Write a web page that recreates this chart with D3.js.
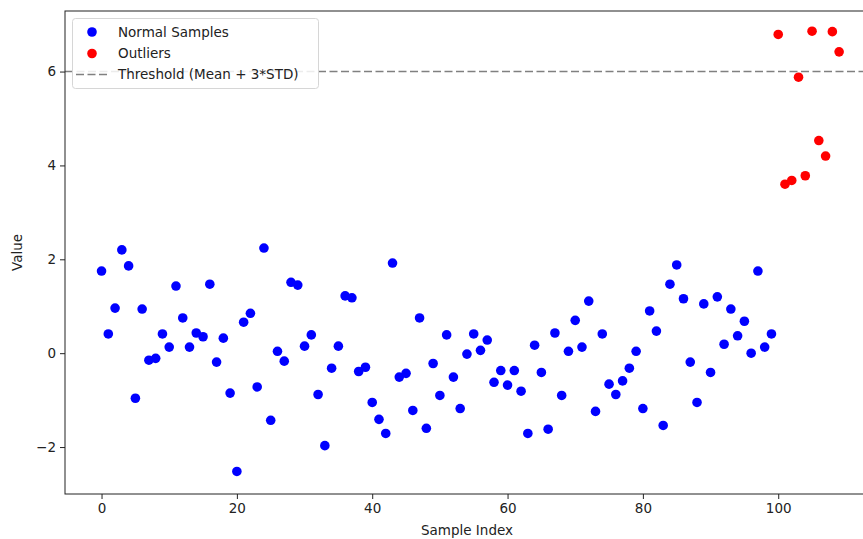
<!DOCTYPE html>
<html>
<head>
<meta charset="utf-8">
<script src="https://cdn.jsdelivr.net/npm/d3@7"></script>
<style>
  html, body { margin: 0; padding: 0; background: #fff; overflow: hidden; }
  svg { display: block; font-family: "DejaVu Sans", sans-serif; }
</style>
</head>
<body>
<svg id="chart" width="863" height="539"></svg>
<script>
// data
var normalValues = [
  1.75, 0.41, 0.96, 2.20, 1.86, -0.96, 0.94, -0.15, -0.11, 0.41,
  0.13, 1.43, 0.75, 0.13, 0.43, 0.35, 1.47, -0.19, 0.32, -0.85,
  -2.52, 0.66, 0.85, -0.72, 2.24, -1.43, 0.04, -0.17, 1.51, 1.45,
  0.15, 0.39, -0.88, -1.97, -0.32, 0.15, 1.22, 1.18, -0.39, -0.30,
  -1.05, -1.41, -1.71, 1.92, -0.51, -0.43, -1.22, 0.75, -1.60, -0.22,
  -0.90, 0.39, -0.51, -1.18, -0.02, 0.41, 0.06, 0.28, -0.62, -0.37,
  -0.68, -0.37, -0.81, -1.71, 0.17, -0.41, -1.62, 0.43, -0.90, 0.04,
  0.70, 0.13, 1.11, -1.24, 0.41, -0.66, -0.88, -0.59, -0.32, 0.04,
  -1.18, 0.90, 0.47, -1.54, 1.47, 1.88, 1.16, -0.19, -1.05, 1.05,
  -0.41, 1.20, 0.19, 0.94, 0.37, 0.68, 0.00, 1.75, 0.13, 0.41
]
var outlierIndex = [100, 101, 102, 103, 104, 105, 106, 107, 108, 109]
var outlierValues = [6.79, 3.60, 3.68, 5.88, 3.78, 6.86, 4.53, 4.20, 6.85, 6.42]
var threshold = 6.0
var xTicks = [0, 20, 40, 60, 80, 100]
var yTicks = [-2, 0, 2, 4, 6]
var legendLabels = ['Normal Samples', 'Outliers', 'Threshold (Mean + 3*STD)']

//
// Layout
//
var plotLeft = 65, plotRight = 876, plotTop = 11, plotBottom = 494
var colorNormal = '#0000ff'
var colorOutlier = '#ff0000'
var colorThreshold = '#808080'
var dotRadius = 4.8

var svg = d3.select('#chart')

var x = d3.scaleLinear().domain([-5.4, 114.45]).range([plotLeft, plotRight])
var y = d3.scaleLinear().domain([-3.0, 7.29]).range([plotBottom, plotTop])

// title is almost entirely cropped off above the figure
svg.append('text')
  .attr('x', 170)
  .attr('y', -3)
  .attr('font-size', 16)
  .attr('fill', '#000')
  .text('Anomaly Detection')

// points
var normalData = normalValues.map(function (v, i) { return [i, v] })
var outlierData = outlierValues.map(function (v, i) { return [outlierIndex[i], v] })

svg.append('g').selectAll('circle')
  .data(normalData)
  .join('circle')
  .attr('cx', function (d) { return x(d[0]) })
  .attr('cy', function (d) { return y(d[1]) })
  .attr('r', dotRadius)
  .attr('fill', colorNormal)

svg.append('g').selectAll('circle')
  .data(outlierData)
  .join('circle')
  .attr('cx', function (d) { return x(d[0]) })
  .attr('cy', function (d) { return y(d[1]) })
  .attr('r', dotRadius)
  .attr('fill', colorOutlier)

// threshold line
svg.append('line')
  .attr('x1', plotLeft).attr('x2', plotRight)
  .attr('y1', y(threshold)).attr('y2', y(threshold))
  .attr('stroke', colorThreshold)
  .attr('stroke-width', 1.6)
  .attr('stroke-dasharray', '8,3.5')

// axes
var xAxis = svg.append('g')
  .attr('transform', 'translate(0,' + plotBottom + ')')
  .call(d3.axisBottom(x).tickValues(xTicks).tickSize(5).tickPadding(4).tickFormat(d3.format('d')))
var yAxis = svg.append('g')
  .attr('transform', 'translate(' + plotLeft + ',0)')
  .call(d3.axisLeft(y).tickValues(yTicks).tickSize(5).tickPadding(4)
    .tickFormat(function (d) { return d < 0 ? '\u2212' + Math.abs(d) : d }))

;[xAxis, yAxis].forEach(function (a) {
  a.select('.domain').remove()
  a.selectAll('text').attr('font-size', 13.5).attr('fill', '#222').attr('font-family', '"DejaVu Sans", sans-serif')
  a.selectAll('line').attr('stroke', '#222')
})

// frame
svg.append('rect')
  .attr('x', plotLeft).attr('y', plotTop)
  .attr('width', plotRight - plotLeft).attr('height', plotBottom - plotTop)
  .attr('fill', 'none')
  .attr('stroke', '#222')
  .attr('stroke-width', 1)

// axis labels
svg.append('text')
  .attr('x', 467)
  .attr('y', 535)
  .attr('text-anchor', 'middle')
  .attr('font-size', 13.5)
  .attr('fill', '#222')
  .text('Sample Index')

svg.append('text')
  .attr('transform', 'translate(22,' + (plotTop + plotBottom) / 2 + ') rotate(-90)')
  .attr('text-anchor', 'middle')
  .attr('font-size', 13.5)
  .attr('fill', '#222')
  .text('Value')

// legend
var legend = svg.append('g')
legend.append('rect')
  .attr('x', 72.5).attr('y', 18.5)
  .attr('width', 246).attr('height', 70)
  .attr('rx', 3)
  .attr('fill', '#fff')
  .attr('fill-opacity', 0.85)
  .attr('stroke', '#d6d6d6')

var rowY = [32, 53.5, 74.5]
legend.append('circle').attr('cx', 92).attr('cy', rowY[0]).attr('r', dotRadius).attr('fill', colorNormal)
legend.append('circle').attr('cx', 92).attr('cy', rowY[1]).attr('r', dotRadius).attr('fill', colorOutlier)
legend.append('line')
  .attr('x1', 76).attr('x2', 107)
  .attr('y1', rowY[2]).attr('y2', rowY[2])
  .attr('stroke', colorThreshold)
  .attr('stroke-width', 1.6)
  .attr('stroke-dasharray', '8,3.5')

legend.selectAll('text.lab')
  .data(legendLabels)
  .join('text')
  .attr('class', 'lab')
  .attr('x', 118)
  .attr('y', function (d, i) { return rowY[i] + 4.5 })
  .attr('font-size', 13.5)
  .attr('fill', '#222')
  .text(function (d) { return d })
</script>
</body>
</html>
